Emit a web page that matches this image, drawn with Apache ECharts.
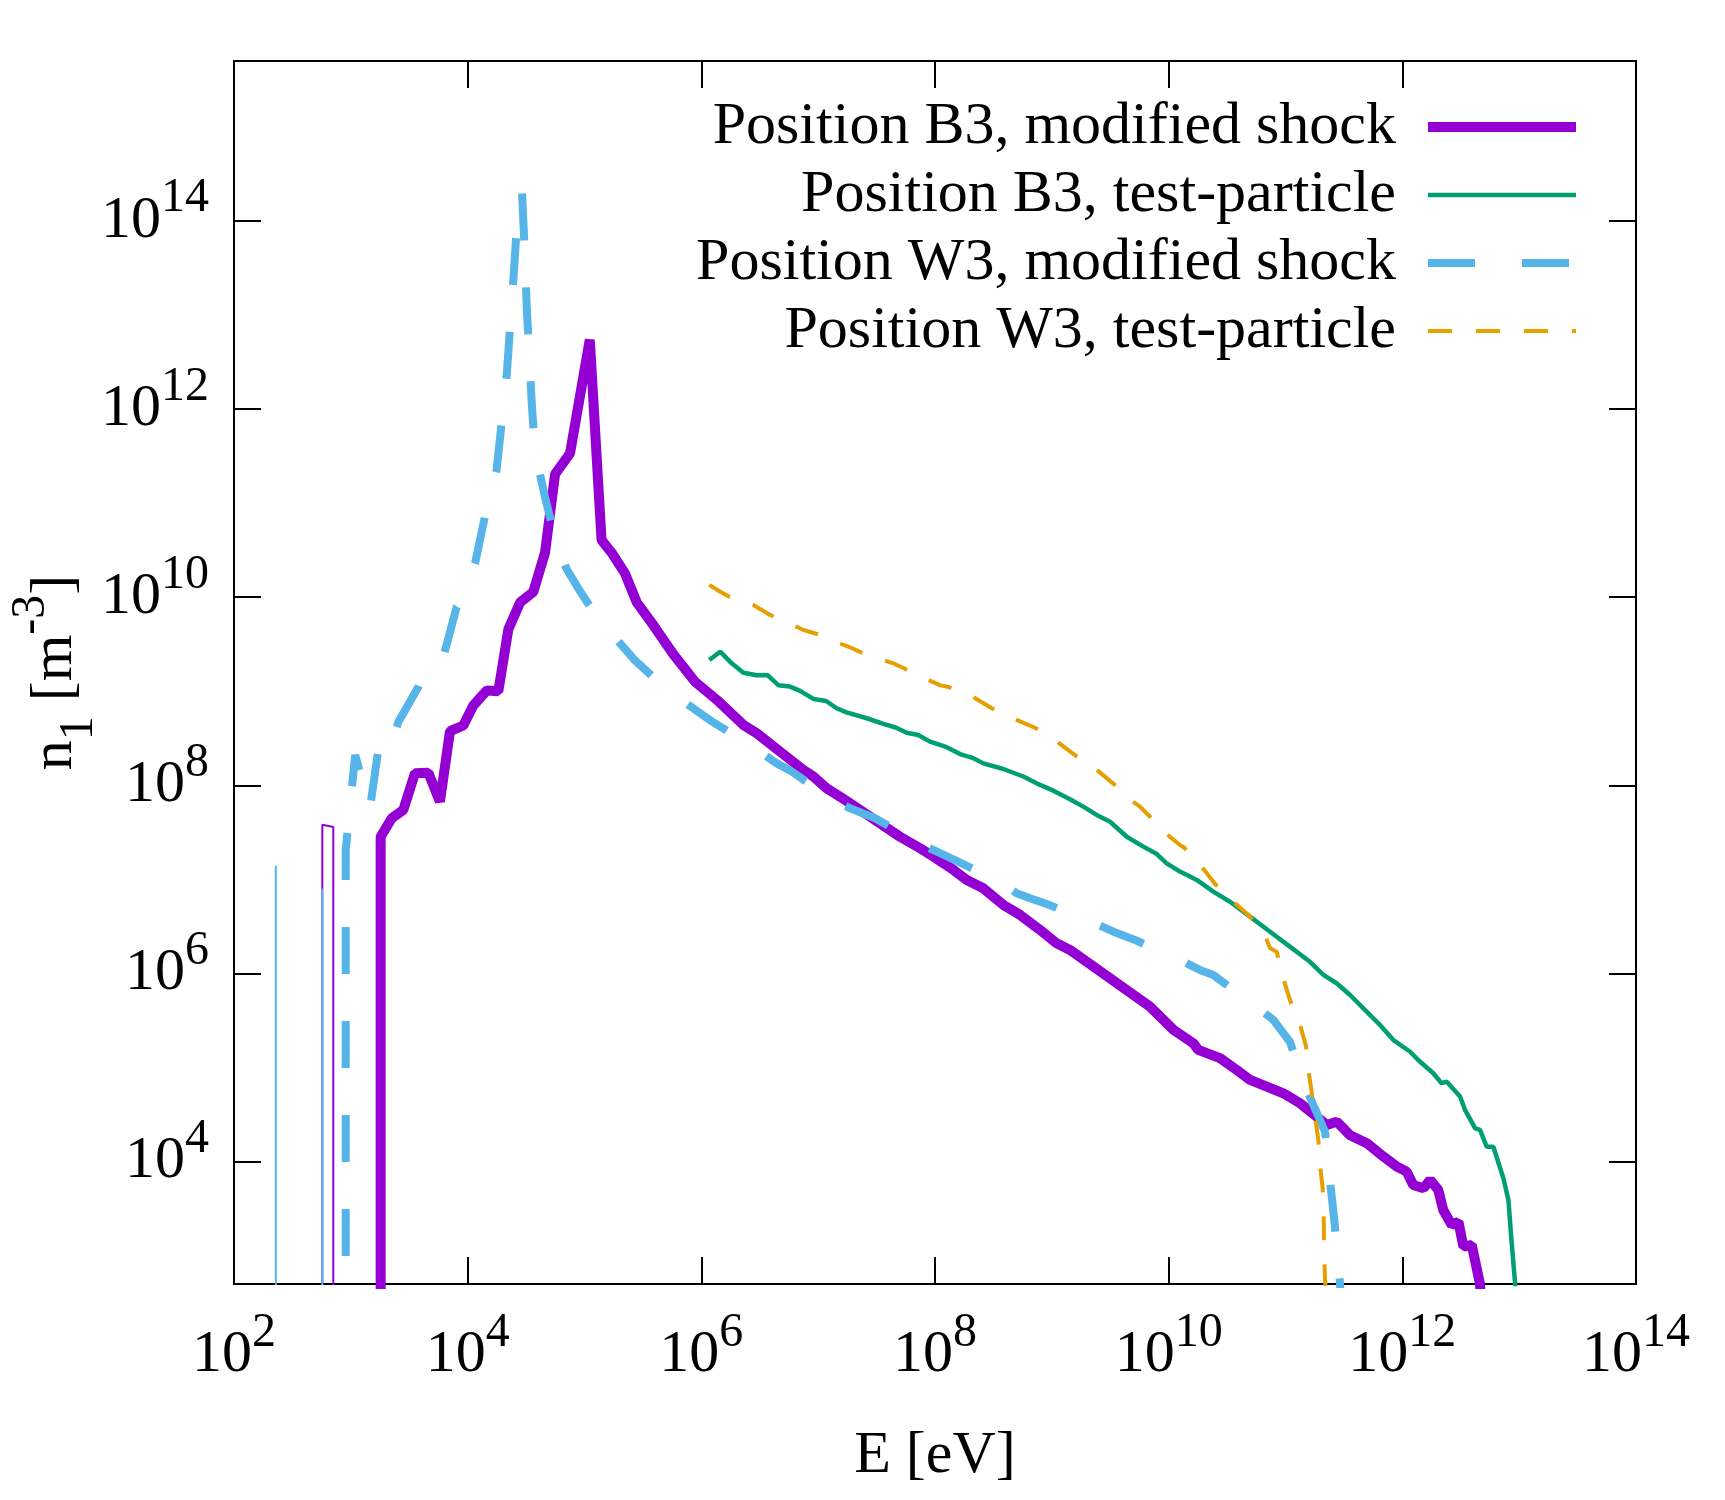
<!DOCTYPE html>
<html><head><meta charset="utf-8">
<script src="https://cdn.jsdelivr.net/npm/echarts@6/dist/echarts.min.js"></script>
<style>html,body{margin:0;padding:0;background:#fff}#c{width:1725px;height:1500px}</style>
</head><body><div id="c"></div>
<script>
// ---- tick labels (exponents of 10) ----
const xTickExponents = [2, 4, 6, 8, 10, 12, 14];
const yTickExponents = [4, 6, 8, 10, 12, 14];

// ---- series names ----
const seriesNames = [
  'Position B3, modified shock',
  'Position B3, test-particle',
  'Position W3, modified shock',
  'Position W3, test-particle'
];

// ---- data: [E (eV), n1 (m^-3)] ----
const b3Modified = [
  [1.8e3, 1], [1.8e3, 2.84e7], [2.24e3, 4.46e7], [2.81e3, 5.47e7], [3.54e3, 1.34e8],
  [4.60e3, 1.36e8], [5.79e3, 6.70e7], [7.06e3, 3.76e8], [9.18e3, 4.32e8], [1.12e4, 7.08e8],
  [1.46e4, 1.02e9], [1.83e4, 9.98e8], [2.23e4, 4.55e9], [2.81e4, 8.79e9], [3.65e4, 1.14e10],
  [4.59e4, 2.96e10], [5.60e4, 2.03e11], [7.52e4, 3.37e11], [1.11e5, 5.45e12], [1.40e5, 4.03e10],
  [1.71e5, 2.96e10], [2.22e5, 1.79e10], [2.80e5, 8.79e9], [3.88e5, 5.05e9], [5.75e5, 2.48e9],
  [8.83e5, 1.26e9], [1.36e6, 8.07e8], [2.29e6, 4.38e8], [2.98e6, 3.57e8], [4.72e6, 2.28e8],
  [7.46e6, 1.46e8], [9.10e6, 1.24e8], [1.18e7, 9.29e7], [1.54e7, 7.57e7], [2.28e7, 5.47e7],
  [3.38e7, 3.94e7], [5.02e7, 2.84e7], [7.45e7, 2.14e7], [9.68e7, 1.75e7], [1.44e8, 1.26e7],
  [1.87e8, 9.86e6], [2.59e8, 8.04e6], [3.85e8, 5.35e6], [5.35e8, 4.19e6], [7.93e8, 2.90e6],
  [1.10e9, 2.09e6], [1.43e9, 1.78e6], [6.92e9, 4.44e5], [1.10e10, 2.51e5], [1.63e10, 1.81e5],
  [1.79e10, 1.54e5], [2.75e10, 1.26e5], [3.83e10, 9.42e4], [4.98e10, 7.38e4], [6.92e10, 6.27e4],
  [9.59e10, 5.32e4], [1.33e11, 4.17e4], [1.85e11, 3.01e4], [2.26e11, 2.45e4], [2.75e11, 2.66e4],
  [3.57e11, 1.91e4], [4.97e11, 1.57e4], [6.89e11, 1.13e4], [8.95e11, 8.85e3], [1.09e12, 7.83e3],
  [1.24e12, 5.65e3], [1.52e12, 5.21e3], [1.73e12, 6.38e3], [2.03e12, 5.00e3], [2.24e12, 3.06e3],
  [2.65e12, 2.12e3], [3.02e12, 2.30e3], [3.33e12, 1.25e3], [3.93e12, 1.30e3], [4.62e12, 500],
  [5.0e12, 100]
];

const b3TestParticle = [
  [1.17e6, 2.15e9], [1.45e6, 2.63e9], [1.82e6, 1.98e9], [2.29e6, 1.57e9], [2.98e6, 1.48e9],
  [3.67e6, 1.49e9], [4.56e6, 1.16e9], [5.74e6, 1.12e9], [7.00e6, 1.01e9], [9.10e6, 8.28e8],
  [1.17e7, 7.87e8], [1.44e7, 6.59e8], [1.75e7, 5.97e8], [2.61e7, 5.16e8], [3.61e7, 4.49e8],
  [4.55e7, 4.14e8], [5.73e7, 3.62e8], [7.19e7, 3.43e8], [9.06e7, 2.91e8], [1.26e8, 2.54e8],
  [1.64e8, 2.15e8], [2.13e8, 1.94e8], [2.59e8, 1.71e8], [3.85e8, 1.49e8], [5.70e8, 1.24e8],
  [7.93e8, 1.01e8], [1.03e9, 8.77e7], [1.43e9, 7.10e7], [1.86e9, 5.93e7], [2.42e9, 4.84e7],
  [3.15e9, 4.10e7], [4.38e9, 2.84e7], [6.07e9, 2.23e7], [7.91e9, 1.86e7], [9.62e9, 1.48e7],
  [1.25e10, 1.21e7], [1.74e10, 9.86e6], [2.41e10, 7.40e6], [3.35e10, 5.79e6], [4.97e10, 4.02e6],
  [7.38e10, 2.78e6], [1.09e11, 1.93e6], [1.62e11, 1.33e6], [2.11e11, 9.64e5], [2.74e11, 7.87e5],
  [3.57e11, 5.90e5], [4.95e11, 3.93e5], [6.44e11, 2.83e5], [8.38e11, 1.96e5], [1.16e12, 1.48e5],
  [1.42e12, 1.15e5], [1.84e12, 8.69e4], [2.17e12, 6.81e4], [2.40e12, 7.08e4], [3.12e12, 4.91e4],
  [3.44e12, 3.54e4], [4.20e12, 2.26e4], [4.62e12, 2.17e4], [5.27e12, 1.44e4], [6.01e12, 1.44e4],
  [7.33e12, 6.65e3], [8.09e12, 3.91e3], [8.63e12, 1.36e3], [9.23e12, 509], [9.8e12, 160]
];

const w3Modified = [
  [904, 1], [904, 2.05e7], [1.09e3, 2.10e8], [1.46e3, 5.74e7], [1.78e3, 3.27e8],
  [2.24e3, 2.82e8], [2.55e3, 4.71e8], [3.78e3, 1.11e9], [4.76e3, 2.15e9], [6.19e3, 2.31e9],
  [8.05e3, 7.85e9], [9.48e3, 1.03e10], [1.16e4, 2.31e10], [1.41e4, 7.36e10], [1.77e4, 2.25e11],
  [2.16e4, 2.30e12], [2.46e4, 2.35e13], [2.63e4, 8.39e13], [2.92e4, 2.0e14], [3.10e4, 3.93e13],
  [3.20e4, 1.22e13], [3.37e4, 3.85e12], [3.53e4, 1.19e12], [3.77e4, 3.53e11], [4.59e4, 1.16e11],
  [5.78e4, 3.63e10], [7.05e4, 1.98e10], [8.57e4, 1.32e10], [1.45e5, 4.80e9], [1.89e5, 3.54e9],
  [2.70e5, 2.13e9], [5.75e5, 9.04e8], [7.50e5, 7.38e8], [1.19e6, 4.90e8], [2.79e6, 2.54e8],
  [4.42e6, 1.71e8], [5.94e6, 1.40e8], [1.35e7, 6.87e7], [1.87e7, 5.70e7], [3.07e7, 4.47e7],
  [7.19e7, 2.42e7], [1.04e8, 1.97e7], [1.64e8, 1.51e7], [3.97e8, 8.73e6], [5.00e8, 7.11e6],
  [6.50e8, 6.30e6], [9.04e8, 5.48e6], [2.19e9, 3.55e6], [3.36e9, 2.78e6], [5.15e9, 2.27e6],
  [1.25e10, 1.39e6], [1.85e10, 1.09e6], [2.41e10, 9.64e5], [2.75e10, 8.53e5], [5.86e10, 4.27e5],
  [7.87e10, 3.21e5], [1.09e11, 1.88e5], [1.52e11, 5.78e4], [2.18e11, 2.08e4], [2.40e11, 6.38e3],
  [2.65e11, 2.04e3], [2.93e11, 508], [3.09e11, 100]
];

const w3TestParticle = [
  [1.17e6, 1.35e10], [1.45e6, 1.14e10], [1.74e6, 1.01e10], [2.79e6, 8.26e9], [3.87e6, 6.47e9],
  [6.34e6, 4.94e9], [7.46e6, 4.48e9], [9.73e6, 4.06e9], [1.52e7, 3.24e9], [1.87e7, 2.93e9],
  [2.36e7, 2.57e9], [3.61e7, 2.15e9], [4.40e7, 1.98e9], [5.65e7, 1.71e9], [8.77e7, 1.32e9],
  [1.10e8, 1.16e9], [1.33e8, 1.10e9], [2.10e8, 8.75e8], [3.06e8, 6.59e8], [4.84e8, 5.04e8],
  [7.33e8, 4.04e8], [1.11e9, 2.91e8], [1.61e9, 2.05e8], [2.39e9, 1.48e8], [3.40e9, 1.03e8],
  [4.92e9, 6.70e7], [5.69e9, 5.93e7], [6.92e9, 4.63e7], [9.62e9, 3.03e7], [1.25e10, 2.32e7],
  [1.38e10, 2.14e7], [1.92e10, 1.36e7], [2.54e10, 8.73e6], [3.65e10, 5.65e6], [4.97e10, 4.02e6],
  [6.68e10, 2.50e6], [7.38e10, 1.85e6], [8.41e10, 1.70e6], [9.57e10, 8.89e5], [1.09e11, 5.22e5],
  [1.31e11, 3.08e5], [1.50e11, 1.67e5], [1.57e11, 9.42e4], [1.68e11, 5.32e4], [1.79e11, 3.00e4],
  [1.91e11, 1.70e4], [1.98e11, 8.83e3], [2.08e11, 5.21e3], [2.12e11, 2.84e3], [2.15e11, 865],
  [2.19e11, 509], [2.24e11, 100]
];

// thin low-energy spikes near the left edge
const thinBlueA = [[228, 1], [228, 1.4e7]];
const thinPurple = [[570, 1], [570, 3.8e7], [708, 3.6e7], [708, 1]];
const thinBlueB = [[570, 1], [570, 8.0e6]];

// ---- styles ----
const FONT = '"Liberation Serif", "Times New Roman", "DejaVu Serif", serif';
const FS = 60;
const FS_SMALL = 48;
const colors = ['#9400D3', '#009E73', '#56B4E9', '#E69F00'];

const xTickValues = xTickExponents.map(e => Math.pow(10, e));
const yTickValues = yTickExponents.map(e => Math.pow(10, e));
function powLabel(v) {
  const e = Math.round(Math.log10(v));
  return '{b|10}{s|' + e + '}';
}
const labelRich = {
  b: { fontFamily: FONT, fontSize: FS, color: '#000', lineHeight: 92, verticalAlign: 'middle' },
  s: { fontFamily: FONT, fontSize: FS_SMALL, color: '#000', lineHeight: 56, verticalAlign: 'top' }
};
const axisLineStyle = { show: true, onZero: false, lineStyle: { color: '#000', width: 2 } };

function xAxisDef(pos, main) {
  return {
    type: 'log', logBase: 10, min: 1e2, max: 1e14, position: pos,
    axisLine: axisLineStyle,
    axisTick: { show: true, inside: true, length: 27, customValues: xTickValues, lineStyle: { color: '#000', width: 2 } },
    axisLabel: main ? { show: true, customValues: xTickValues, formatter: powLabel, rich: labelRich, margin: 25 } : { show: false },
    splitLine: { show: false }, minorTick: { show: false },
    name: main ? 'E [eV]' : '', nameLocation: 'middle', nameGap: 142, nameMoveOverlap: false,
    nameTextStyle: { fontFamily: FONT, fontSize: FS, color: '#000' }
  };
}
function yAxisDef(pos, main) {
  return {
    type: 'log', logBase: 10, min: 500, max: 5e15, position: pos,
    axisLine: axisLineStyle,
    axisTick: { show: true, inside: true, length: 27, customValues: yTickValues, lineStyle: { color: '#000', width: 2 } },
    axisLabel: main ? { show: true, customValues: yTickValues, formatter: powLabel, rich: labelRich, margin: 25 } : { show: false },
    splitLine: { show: false }, minorTick: { show: false },
    name: main ? '{a|n}{sub|1}{a| [m}{sup|-3}{a|]}' : '', nameLocation: 'middle', nameRotate: 90, nameGap: 131,
    nameMoveOverlap: false,
    nameTextStyle: {
      rich: {
        a: { fontFamily: FONT, fontSize: FS, color: '#000', lineHeight: 96, verticalAlign: 'middle' },
        sub: { fontFamily: FONT, fontSize: FS_SMALL, color: '#000', lineHeight: 64, verticalAlign: 'bottom' },
        sup: { fontFamily: FONT, fontSize: FS_SMALL, color: '#000', lineHeight: 60, verticalAlign: 'top' }
      }
    }
  };
}

function mainSeries(name, data, color, width, type, z) {
  return {
    name: name, type: 'line', data: data, xAxisIndex: 0, yAxisIndex: 0,
    symbol: 'none', showSymbol: false, clip: true, z: z,
    lineStyle: { color: color, width: width, type: type },
    itemStyle: { color: color },
    emphasis: { disabled: true }
  };
}
function thinSeries(data, color, z) {
  return {
    type: 'line', data: data, xAxisIndex: 0, yAxisIndex: 0,
    symbol: 'none', showSymbol: false, clip: true, z: z,
    lineStyle: { color: color, width: 2 },
    emphasis: { disabled: true }
  };
}

const chart = echarts.init(document.getElementById('c'), null, { renderer: 'canvas' });
chart.setOption({
  animation: false,
  backgroundColor: '#ffffff',
  grid: { left: 234, right: 89, top: 61, bottom: 216, containLabel: false, outerBoundsMode: 'none' },
  xAxis: [xAxisDef('bottom', true), xAxisDef('top', false)],
  yAxis: [yAxisDef('left', true), yAxisDef('right', false)],
  legend: {
    data: seriesNames,
    orient: 'vertical', right: 139, top: 90, align: 'right',
    itemWidth: 148, itemHeight: 14, itemGap: 4,
    selectedMode: false,
    textStyle: { fontFamily: FONT, fontSize: FS, color: '#000', lineHeight: 64, padding: [0, 27, 0, 0] },
    lineStyle: { width: 'inherit' },
    itemStyle: { color: 'rgba(0,0,0,0)', borderWidth: 0, opacity: 0 }
  },
  series: [
    thinSeries(thinPurple, colors[0], 1),
    thinSeries(thinBlueA, colors[2], 2),
    thinSeries(thinBlueB, colors[2], 2),
    mainSeries(seriesNames[0], b3Modified, colors[0], 10, 'solid', 3),
    mainSeries(seriesNames[1], b3TestParticle, colors[1], 4.5, 'solid', 4),
    mainSeries(seriesNames[2], w3Modified, colors[2], 8, [47, 47], 5),
    mainSeries(seriesNames[3], w3TestParticle, colors[3], 4, [24, 24], 6)
  ]
});
</script>
</body></html>
